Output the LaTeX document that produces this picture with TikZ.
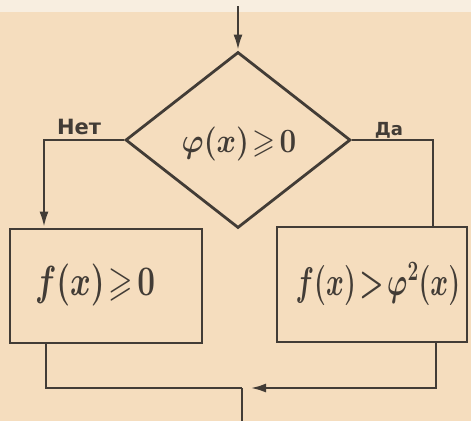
\RequirePackage{fix-cm}
\documentclass[tikz,border=0pt]{standalone}
\usepackage{amssymb}
\usepackage{fontspec}
\newfontfamily\labelfont{DejaVu Sans}
\usetikzlibrary{shapes.geometric,arrows.meta}
\definecolor{bg}{RGB}{245,221,190}
\definecolor{bgtop}{RGB}{248,238,224}
\definecolor{ink}{RGB}{66,60,54}
\tikzset{
  flow/.style={draw=ink,line width=2.8pt,line join=miter},
  conn/.style={draw=ink,line width=2.8pt},
  tip/.style={-{Latex[length=16pt,width=9pt]}},
  decision/.style={diamond,flow,inner sep=0pt,minimum width=225pt,minimum height=176pt},
  box/.style={rectangle,flow,inner sep=0pt},
  lbl/.style={text=ink,font=\labelfont\bfseries,inner sep=0pt},
  formula/.style={text=ink,inner sep=0pt}
}
\begin{document}
\begin{tikzpicture}[x=1pt,y=-1pt]
\useasboundingbox (0,0) rectangle (471,421);
\fill[bg] (0,0) rectangle (471,421);
\fill[bgtop] (0,0) rectangle (471,12);
% nodes
\node[decision] (d) at (238,140) {};
\node[formula] (dt) at (239,144) {\scalebox{0.87}[1]{\fontsize{34}{36}\selectfont\boldmath$\varphi(x)\!\geqslant\! 0$}};
\node[box,minimum width=192pt,minimum height=114pt] (lb) at (106,286) {};
\node[formula] (lt) at (95,285) {\scalebox{0.75}[1]{\fontsize{42}{44}\selectfont\boldmath$f(x)\!\geqslant\! 0$}};
\node[box,minimum width=190pt,minimum height=115pt] (rb) at (372,284.5) {};
\node[formula] (rt) at (378,284) {\scalebox{0.68}[1]{\fontsize{40}{42}\selectfont\boldmath$f(x)\!>\!\varphi^{2}(x)$}};
\node[lbl,font=\labelfont\bfseries\fontsize{21}{22}\selectfont] (no) at (79,127) {Нет};
\node[lbl,font=\labelfont\bfseries\fontsize{18}{20}\selectfont] (yes) at (389,130) {Да};
% coordinates
\coordinate (start) at (238,6);
\coordinate (lturn) at (44,140);
\coordinate (rturn) at (433,140);
\coordinate (lbot) at (46,388);
\coordinate (rbot) at (436,388);
\coordinate (merge) at (242,388);
\coordinate (endp) at (242,421);
% connectors
\draw[conn,tip] (d.north |- start) -- (d.north);
\draw[conn,tip] (d.west) -- (lturn) -- (lturn |- lb.north);
\draw[conn] (d.east) -- (rturn) -- (rturn |- rb.north);
\draw[conn] (lbot |- lb.south) -- (lbot) -- (merge);
\draw[conn,tip] (rbot |- rb.south) -- (rbot) -- ([xshift=8pt]merge);
\draw[conn] (merge) -- (endp);
\end{tikzpicture}
\end{document}
